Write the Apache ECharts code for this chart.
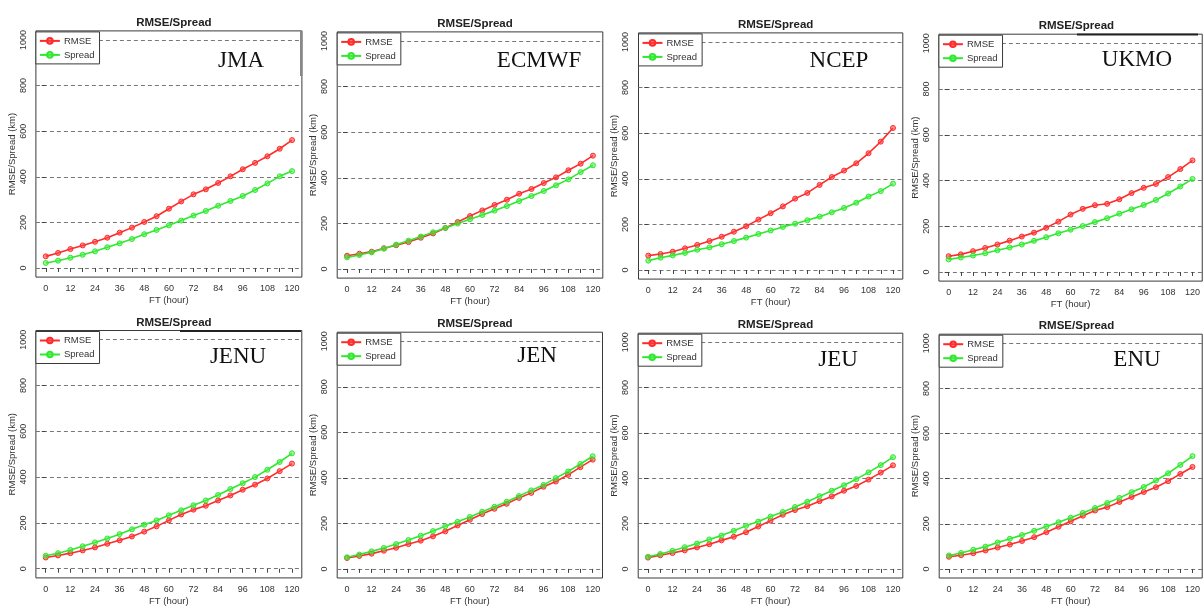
<!DOCTYPE html>
<html>
<head>
<meta charset="utf-8">
<script src="https://cdn.jsdelivr.net/npm/echarts@6/dist/echarts.min.js"></script>
<style>
html,body{margin:0;padding:0;background:#fff;}
#chart{width:1203px;height:607px;}
</style>
</head>
<body>
<div id="chart"></div>
<script>
// ---- data ----
const ft = [0,6,12,18,24,30,36,42,48,54,60,66,72,78,84,90,96,102,108,114,120];
const xTicks = [0,6,12,18,24,30,36,42,48,54,60,66,72,78,84,90,96,102,108,114,120];
const xLabels = [0,12,24,36,48,60,72,84,96,108,120];
const yTicks = [0,200,400,600,800,1000];
const panelNames = ['JMA','ECMWF','NCEP','UKMO','JENU','JEN','JEU','ENU'];
const seriesNames = ['RMSE','Spread'];

const jmaRmse    = [51,66,83,99,115,133,155,177,202,227,260,292,323,345,373,402,433,461,490,523,561];
const jmaSpread  = [22,32,45,58,73,91,108,127,148,167,187,208,230,250,273,294,316,342,371,402,425];
const ecmwfRmse  = [58,67,76,91,104,118,137,156,180,206,232,257,281,304,330,351,377,402,433,462,497];
const ecmwfSpread= [51,61,73,89,107,124,142,161,180,199,218,237,256,276,298,320,342,367,393,425,455];
const ncepRmse   = [63,70,80,95,110,127,146,168,192,221,249,279,313,338,373,408,436,468,512,563,623];
const ncepSpread = [41,54,64,75,89,99,113,127,142,158,173,189,203,218,234,253,272,295,322,346,379];
const ukmoRmse   = [69,77,91,105,120,137,155,172,193,220,251,276,292,298,318,345,368,385,415,450,488];
const ukmoSpread = [55,63,72,82,95,107,120,136,152,169,185,201,218,235,255,274,293,315,343,374,407];
const jenuRmse   = [49,58,68,80,93,109,124,141,162,185,211,237,258,275,298,320,345,367,394,426,459];
const jenuSpread = [57,68,82,98,115,132,151,172,192,211,233,255,277,298,322,348,373,400,432,466,504];
const jenRmse    = [48,57,67,80,93,109,124,143,165,191,216,241,264,286,312,334,361,384,413,447,480];
const jenSpread  = [51,63,77,92,109,127,146,166,187,207,228,251,273,295,320,345,369,399,428,461,495];
const jeuRmse    = [50,60,70,82,95,109,126,142,162,187,213,239,260,277,299,320,345,366,394,425,457];
const jeuSpread  = [54,66,80,96,112,130,147,168,190,209,231,251,273,296,321,345,369,396,426,458,493];
const enuRmse    = [54,61,70,82,95,108,124,141,163,187,211,236,259,274,297,319,341,362,389,421,452];
const enuSpread  = [60,71,85,99,117,134,150,169,188,207,227,248,270,292,315,340,363,392,424,461,500];

const rmseData = [jmaRmse, ecmwfRmse, ncepRmse, ukmoRmse, jenuRmse, jenRmse, jeuRmse, enuRmse];
const spreadData = [jmaSpread, ecmwfSpread, ncepSpread, ukmoSpread, jenuSpread, jenSpread, jeuSpread, enuSpread];

// ---- layout (pixel boxes of each plot area) ----
const boxes = [
  [35.9, 30.9, 266.0, 246.2],
  [337.2, 31.9, 265.6, 246.2],
  [638.5, 32.9, 264.3, 246.2],
  [938.9, 34.2, 264.9, 246.9],
  [35.9, 330.5, 265.9, 247.4],
  [337.2, 332.2, 265.3, 246.6],
  [638.2, 333.2, 264.6, 246.6],
  [939.2, 334.2, 264.6, 246.6]
];
const labelPos = [[241,61],[539,61],[839,61],[1137,60],[238,357],[537,356],[838,360],[1137,360]];

const FONT = 'Liberation Sans, Arial, sans-serif';
const RED = '#ff2b2b', GREEN = '#2fe82f';

const grid = [], xAxis = [], yAxis = [], series = [], legend = [], title = [], graphic = [];

boxes.forEach((b, i) => {
  const [l, t, w, h] = b;
  grid.push({left: l, top: t, width: w, height: h, show: true, borderColor: '#3a3a3a', borderWidth: 1, backgroundColor: 'transparent', containLabel: false});
  xAxis.push({
    type: 'value', gridIndex: i, min: -4.8, max: 124.8,
    axisLine: {show: false},
    axisTick: {show: true, customValues: xTicks, length: 4, lineStyle: {color: '#444'}},
    axisLabel: {customValues: xLabels, fontSize: 9, color: '#333', fontFamily: FONT, margin: 7,
                formatter: v => String(v)},
    splitLine: {show: false},
    name: 'FT (hour)', nameLocation: 'middle', nameGap: 18,
    nameTextStyle: {fontSize: 9.5, color: '#333', fontFamily: FONT}
  });
  yAxis.push({
    type: 'value', gridIndex: i, min: -40, max: 1040,
    axisLine: {show: false},
    axisTick: {show: true, customValues: yTicks, length: 4, lineStyle: {color: '#444'}},
    axisLabel: {customValues: yTicks, rotate: 90, fontSize: 9, color: '#333', fontFamily: FONT, margin: 8,
                formatter: v => String(v)},
    splitLine: {show: true, lineStyle: {color: '#777', type: [4, 3], width: 1}},
    name: 'RMSE/Spread (km)', nameLocation: 'middle', nameGap: 19, nameRotate: 90,
    nameTextStyle: {fontSize: 9.5, color: '#333', fontFamily: FONT}
  });
  const dataSets = [rmseData[i], spreadData[i]];
  const colors = [RED, GREEN];
  const fills = ['rgba(255,60,60,0.55)', 'rgba(70,240,70,0.55)'];
  seriesNames.forEach((nm, k) => {
    series.push({
      name: nm, type: 'line', xAxisIndex: i, yAxisIndex: i,
      data: ft.map((x, j) => [x, dataSets[k][j]]),
      symbol: 'circle', symbolSize: 5,
      lineStyle: {color: colors[k], width: 1.6},
      itemStyle: {color: fills[k], borderColor: colors[k], borderWidth: 1},
      emphasis: {disabled: true}, animation: false, z: 3
    });
  });
  legend.push({
    data: seriesNames, orient: 'vertical', left: l, top: t + 1,
    itemWidth: 20, itemHeight: 7, itemGap: 4,
    padding: [4, 5, 4, 3], borderColor: '#3a3a3a', borderWidth: 1, backgroundColor: '#fff',
    selectedMode: false,
    textStyle: {fontSize: 9.5, color: '#333', fontFamily: FONT, padding: [0, 0, 0, -1]},
    z: 5
  });
  title.push({
    text: 'RMSE/Spread', left: l + w / 2, top: t - 19, textAlign: 'center',
    textStyle: {fontSize: 11.5, fontWeight: 'bold', color: '#222', fontFamily: FONT}
  });
  graphic.push({
    type: 'text', x: labelPos[i][0], y: labelPos[i][1], z: 10,
    style: {text: panelNames[i], fontSize: 23, fontFamily: 'Liberation Serif, DejaVu Serif, serif', fill: '#111', textAlign: 'center', textVerticalAlign: 'middle'}
  });
});

// scan artefacts from the pasted source images
graphic.push({type: 'rect', shape: {x: 300, y: 31, width: 2.5, height: 45}, style: {fill: '#888'}, z: 10});
graphic.push({type: 'line', shape: {x1: 1077, y1: 34.5, x2: 1198, y2: 34.5}, style: {stroke: '#222', lineWidth: 2}, z: 10});
graphic.push({type: 'line', shape: {x1: 180, y1: 331, x2: 301, y2: 331}, style: {stroke: '#222', lineWidth: 2}, z: 10});

const chart = echarts.init(document.getElementById('chart'), null, {renderer: 'canvas'});
chart.setOption({
  animation: false,
  backgroundColor: '#fff',
  title: title, grid: grid, xAxis: xAxis, yAxis: yAxis, legend: legend,
  series: series, graphic: graphic
});
</script>
</body>
</html>
